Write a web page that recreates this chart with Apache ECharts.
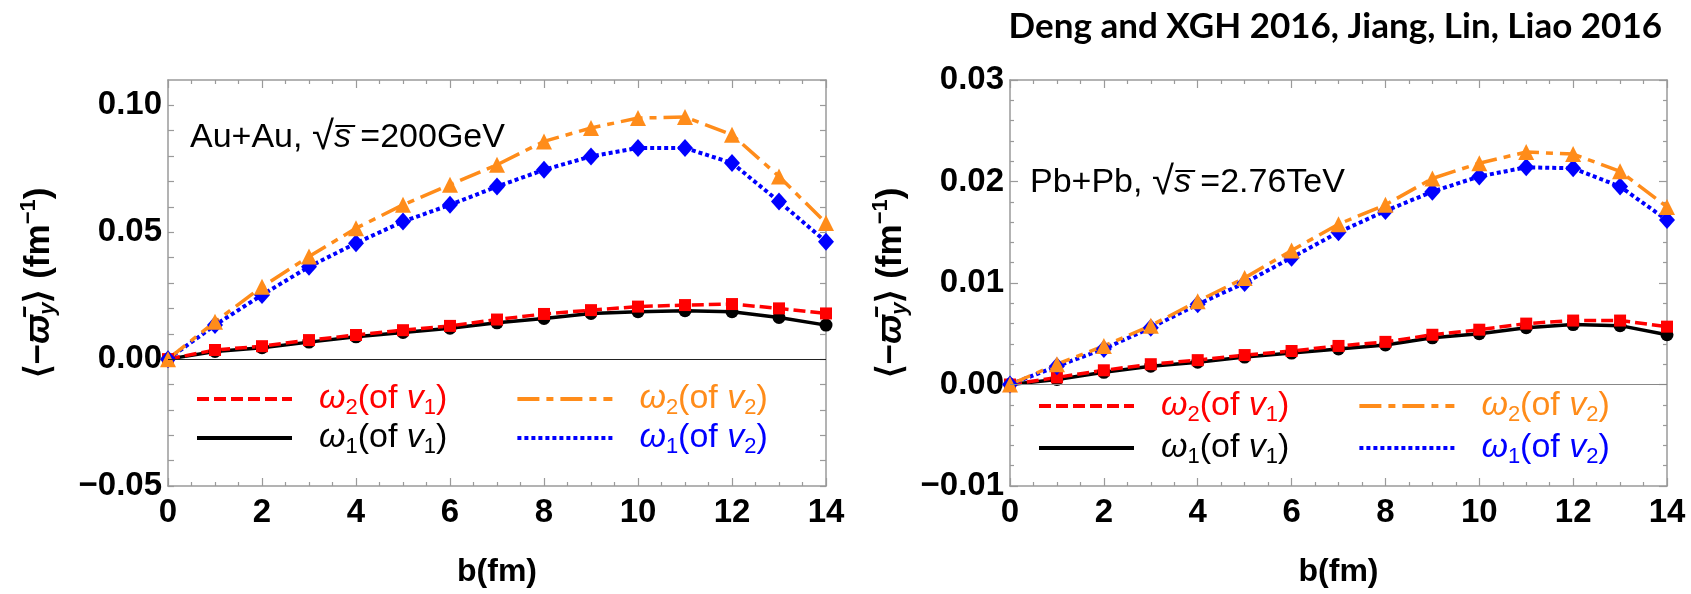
<!DOCTYPE html>
<html>
<head>
<meta charset="utf-8">
<script src="https://cdn.jsdelivr.net/npm/echarts@6/dist/echarts.min.js"></script>
<style>
  html, body { margin: 0; padding: 0; background: #fff; }
  #chart { width: 1691px; height: 594px; }
</style>
</head>
<body>
<div id="chart"></div>
<script>
// impact parameter b (fm)
const bValues = [0, 1, 2, 3, 4, 5, 6, 7, 8, 9, 10, 11, 12, 13, 14];

// Au+Au, sqrt(s)=200GeV
const auW2v1 = [0, 0.0036, 0.0051, 0.0075, 0.0095, 0.0114, 0.0131, 0.0156, 0.0178, 0.0193, 0.0207, 0.0213, 0.0217, 0.0200, 0.0180];
const auW1v1 = [0, 0.0030, 0.0045, 0.0067, 0.0088, 0.0105, 0.0122, 0.0143, 0.0160, 0.0180, 0.0187, 0.0191, 0.0187, 0.0164, 0.0134];
const auW2v2 = [0, 0.0147, 0.0285, 0.0404, 0.0516, 0.0608, 0.0687, 0.0766, 0.0858, 0.0911, 0.0950, 0.0954, 0.0884, 0.0720, 0.0536];
const auW1v2 = [0, 0.0134, 0.0253, 0.0364, 0.0457, 0.0542, 0.0608, 0.0680, 0.0746, 0.0799, 0.0832, 0.0832, 0.0773, 0.0621, 0.0463];

// Pb+Pb, sqrt(s)=2.76TeV
const pbW2v1 = [0, 0.0007, 0.0014, 0.0020, 0.0024, 0.0029, 0.0033, 0.0038, 0.0042, 0.0049, 0.0054, 0.0060, 0.0063, 0.0063, 0.0057];
const pbW1v1 = [0, 0.0005, 0.0012, 0.0018, 0.0022, 0.0027, 0.0031, 0.0035, 0.0039, 0.0046, 0.0050, 0.0056, 0.0059, 0.0058, 0.0049];
const pbW2v2 = [0, 0.0020, 0.0038, 0.0058, 0.0082, 0.0105, 0.0132, 0.0158, 0.0177, 0.0203, 0.0218, 0.0229, 0.0227, 0.0210, 0.0175];
const pbW1v2 = [0, 0.0018, 0.0035, 0.0056, 0.0079, 0.0100, 0.0125, 0.0150, 0.0171, 0.0190, 0.0205, 0.0214, 0.0213, 0.0195, 0.0162];

const xTicks = [0, 14, 2];          // min, max, interval
const yTicksAu = [-0.05, 0.11, 0.05];
const yTicksPb = [-0.01, 0.03, 0.01];

const FONT = '"Liberation Sans", Arial, sans-serif';
const frameColor = '#9a9a9a';
const RED = '#ff0000', ORANGE = '#ff8c1a', BLUE = '#0000ff', BLACK = '#000000';

const chart = echarts.init(document.getElementById('chart'));

const pairs = (ys) => bValues.map((b, i) => [b, ys[i]]);
const fmtNum = (v) => (v < -1e-9 ? '\u2212' : '') + Math.abs(v).toFixed(2);

// 图例文字（带下标）
const legendRich = {};
[['R', RED], ['O', ORANGE], ['K', BLACK], ['B', BLUE]].forEach(([k, c]) => {
  legendRich['t' + k] = { fontFamily: FONT, fontSize: 34, color: c };
  legendRich['i' + k] = { fontFamily: FONT, fontSize: 34, fontStyle: 'italic', color: c };
  legendRich['s' + k] = { fontFamily: FONT, fontSize: 22, color: c, padding: [18, 0, 0, 0] };
});
legendRich.pad = { width: 22 };
const legendText = {
  w2v1: '{pad|}{iR|ω}{sR|2}{tR|(of }{iR|v}{sR|1}{tR|)}',
  w2v2: '{pad|}{iO|ω}{sO|2}{tO|(of }{iO|v}{sO|2}{tO|)}',
  w1v1: '{pad|}{iK|ω}{sK|1}{tK|(of }{iK|v}{sK|1}{tK|)}',
  w1v2: '{pad|}{iB|ω}{sB|1}{tB|(of }{iB|v}{sB|2}{tB|)}'
};

function makeLegend(names, left, top) {
  return {
    data: names, left: left, top: top, orient: 'horizontal',
    itemWidth: 95, itemHeight: 30, itemGap: 68,
    selectedMode: false,
    itemStyle: { opacity: 0 },
    lineStyle: { width: 4 },
    formatter: (n) => legendText[n],
    textStyle: { rich: legendRich }
  };
}

const yNameRich = {
  a: { fontFamily: FONT, fontSize: 35, fontWeight: 'bold', color: '#000' },
  i: { fontFamily: FONT, fontSize: 35, fontWeight: 'bold', fontStyle: 'italic', color: '#000' },
  s: { fontFamily: FONT, fontSize: 22, fontWeight: 'bold', fontStyle: 'italic', color: '#000', padding: [18, 0, 0, 0] },
  p: { fontFamily: FONT, fontSize: 22, fontWeight: 'bold', color: '#000', padding: [0, 0, 20, 0] }
};
const yName = '{a|⟨−}{i|ϖ\u0304}{s|y}{a|⟩ (fm}{p|−1}{a|)}';

function xAxesFor(grid) {
  const base = {
    gridIndex: grid, type: 'value', min: xTicks[0], max: xTicks[1], interval: xTicks[2],
    axisLine: { onZero: false, lineStyle: { color: frameColor, width: 1.5 } },
    axisTick: { inside: true, length: 8, lineStyle: { color: frameColor, width: 1.2 } },
    minorTick: { show: true, splitNumber: 4, length: 4, lineStyle: { color: frameColor, width: 1.2 } },
    splitLine: { show: false }
  };
  return [
    Object.assign({}, base, {
      position: 'bottom',
      axisLabel: { fontFamily: FONT, fontSize: 33, fontWeight: 'bold', color: '#000', margin: 10 },
      name: 'b(fm)', nameLocation: 'middle', nameGap: 70,
      nameTextStyle: { fontFamily: FONT, fontSize: 32, fontWeight: 'bold', color: '#000' }
    }),
    Object.assign({}, base, { position: 'top', axisLabel: { show: false } })
  ];
}

function yAxesFor(grid, ticks, fine, minor, nameGap, showMax) {
  const step = fine ? fine : ticks[2];
  const base = {
    gridIndex: grid, type: 'value', min: ticks[0], max: ticks[1], interval: step,
    axisLine: { onZero: false, lineStyle: { color: frameColor, width: 1.5 } },
    axisTick: { inside: true, length: fine ? 6 : 8, lineStyle: { color: frameColor, width: 1.2 } },
    minorTick: { show: !!minor, splitNumber: minor || 5, length: 4, lineStyle: { color: frameColor, width: 1.2 } },
    splitLine: { show: false }
  };
  const major = ticks[2];
  return [
    Object.assign({}, base, {
      position: 'left',
      axisLabel: {
        fontFamily: FONT, fontSize: 33, fontWeight: 'bold', color: '#000', margin: 6,
        showMaxLabel: showMax,
        formatter: (v) => Math.abs(v / major - Math.round(v / major)) < 1e-6 ? fmtNum(v) : ''
      },
      name: yName, nameLocation: 'middle', nameGap: nameGap, nameRotate: 90,
      nameTextStyle: { rich: yNameRich }
    }),
    Object.assign({}, base, { position: 'right', axisLabel: { show: false } })
  ];
}

function lineSeries(name, data, xi, yi, color, dash, symbol, size, width, zeroLine) {
  const s = {
    name: name, type: 'line', xAxisIndex: xi, yAxisIndex: yi,
    data: pairs(data),
    symbol: symbol, symbolSize: size,
    itemStyle: { color: color },
    lineStyle: { color: color, width: width, type: dash },
    emphasis: { disabled: true },
    animation: false
  };
  if (zeroLine) {
    s.markLine = {
      silent: true, symbol: 'none', label: { show: false },
      lineStyle: { color: zeroLine, width: 1.2, type: 'solid' },
      data: [{ yAxis: 0 }]
    };
  }
  return s;
}

const dashRed = [12, 5];
const dashOrange = [22, 7, 7, 7];
const dashBlue = [4, 3];

const option = {
  backgroundColor: '#fff',
  animation: false,
  title: {
    text: 'Deng and XGH 2016, Jiang, Lin, Liao 2016',
    right: 24, top: 4,
    textStyle: { fontFamily: 'Lato, "Open Sans", sans-serif', fontWeight: 'bold', fontSize: 35, color: '#000' }
  },
  grid: [
    { left: 168, top: 80, width: 658, height: 406 },
    { left: 1010, top: 80, width: 657, height: 406 }
  ],
  xAxis: xAxesFor(0).concat(xAxesFor(1)),
  yAxis: yAxesFor(0, yTicksAu, 0.01, 0, 108, false).concat(yAxesFor(1, yTicksPb, 0, 5, 98, true)),
  legend: [
    makeLegend(['w2v1', 'w2v2'], 190, 377),
    makeLegend(['w1v1', 'w1v2'], 190, 416),
    makeLegend(['w2v1', 'w2v2'], 1032, 384),
    makeLegend(['w1v1', 'w1v2'], 1032, 426)
  ],
  graphic: [
    {
      type: 'text', left: 190, top: 118,
      style: {
        text: '{n|Au+Au, }{r|√}{i|s\u0305}{n| =200GeV}',
        rich: {
          n: { fontFamily: FONT, fontSize: 34, fill: '#000' },
          r: { fontFamily: FONT, fontSize: 40, fill: '#000' },
          i: { fontFamily: FONT, fontSize: 34, fontStyle: 'italic', fill: '#000' }
        }
      }
    },
    {
      type: 'text', left: 1030, top: 163,
      style: {
        text: '{n|Pb+Pb, }{r|√}{i|s\u0305}{n| =2.76TeV}',
        rich: {
          n: { fontFamily: FONT, fontSize: 34, fill: '#000' },
          r: { fontFamily: FONT, fontSize: 40, fill: '#000' },
          i: { fontFamily: FONT, fontSize: 34, fontStyle: 'italic', fill: '#000' }
        }
      }
    }
  ],
  series: [
    lineSeries('w1v1', auW1v1, 0, 0, BLACK, 'solid', 'circle', 13, 3.5, '#222'),
    lineSeries('w2v1', auW2v1, 0, 0, RED, dashRed, 'rect', 12, 3.5),
    lineSeries('w1v2', auW1v2, 0, 0, BLUE, dashBlue, 'diamond', [16, 18], 4),
    lineSeries('w2v2', auW2v2, 0, 0, ORANGE, dashOrange, 'triangle', 16, 3.5),
    lineSeries('w1v1', pbW1v1, 2, 2, BLACK, 'solid', 'circle', 13, 3.5, '#888'),
    lineSeries('w2v1', pbW2v1, 2, 2, RED, dashRed, 'rect', 12, 3.5),
    lineSeries('w1v2', pbW1v2, 2, 2, BLUE, dashBlue, 'diamond', [16, 18], 4),
    lineSeries('w2v2', pbW2v2, 2, 2, ORANGE, dashOrange, 'triangle', 16, 3.5)
  ]
};

chart.setOption(option);
</script>
</body>
</html>
